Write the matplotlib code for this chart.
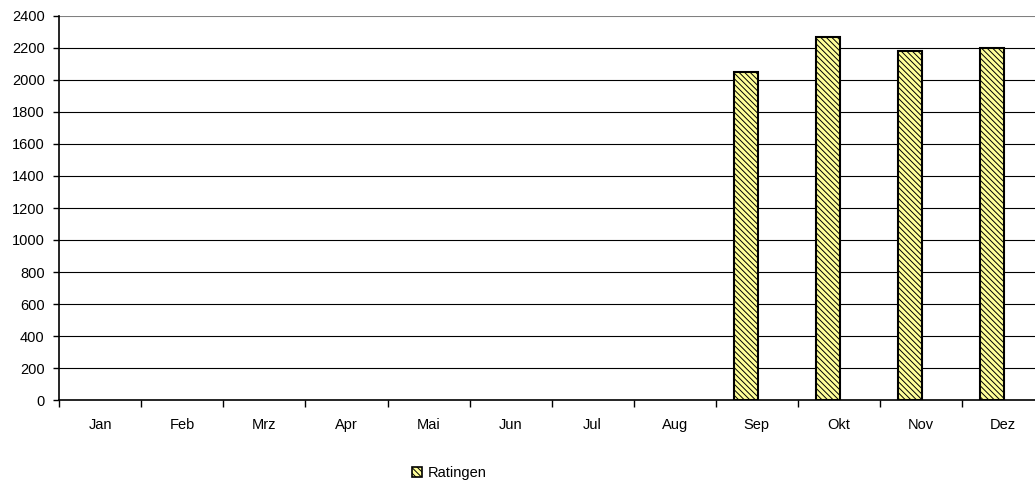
import numpy as np
import matplotlib.pyplot as plt
from matplotlib.patches import Patch

plt.rcParams['font.family'] = ['Liberation Sans', 'DejaVu Sans']
plt.rcParams['hatch.linewidth'] = 0.7

monate = ["Jan", "Feb", "Mrz", "Apr", "Mai", "Jun", "Jul", "Aug", "Sep", "Okt", "Nov", "Dez"]
ratingen = [0, 0, 0, 0, 0, 0, 0, 0, 2052, 2266, 2183, 2198]
y_ticks = list(range(0, 2401, 200))

fig = plt.figure(figsize=(10.35, 4.87), dpi=100)
ax = fig.add_axes([59.3 / 1035, 87 / 487, (1044 - 59.3) / 1035, 384 / 487])

x = np.arange(len(monate))
werte = np.array(ratingen, dtype=float)
maske = werte > 0
ax.bar(x[maske] + 0.5 - 0.134, werte[maske], width=0.293, color="#FFFF99",
       edgecolor="black", linewidth=1.5, hatch="\\" * 6, zorder=3)

ax.set_xlim(0, 12)
ax.set_ylim(0, 2400)
ax.set_yticks(y_ticks)
ax.set_yticklabels([str(v) for v in y_ticks], fontsize=10.5)

# Trennstriche zwischen den Monaten, Beschriftung in der Mitte
ax.set_xticks(np.arange(0, 13))
ax.set_xticklabels([])
ax.set_xticks(x + 0.5, minor=True)
ax.set_xticklabels(monate, minor=True, fontsize=10.5)
ax.tick_params(axis="x", which="major", length=5, width=1, direction="out")
ax.tick_params(axis="x", which="minor", length=0, pad=13)
ax.tick_params(axis="y", length=4, width=1, direction="out", pad=6.5)

for v in y_ticks[1:-1]:
    ax.axhline(v, color="black", linewidth=0.8, zorder=1)
ax.axhline(2400, color="#808080", linewidth=1.5, zorder=1)

ax.spines["top"].set_visible(False)
ax.spines["right"].set_visible(False)
ax.spines["left"].set_linewidth(1.2)
ax.spines["bottom"].set_linewidth(1.2)

handle = Patch(facecolor="#FFFF99", edgecolor="black", hatch="\\" * 6, linewidth=1.2, label="Ratingen")
fig.legend(handles=[handle], loc="center", bbox_to_anchor=(449 / 1035, 1 - 473 / 487),
           frameon=False, fontsize=10.5, handlelength=0.75, handleheight=0.75, handletextpad=0.35)

fig.savefig("out.png", dpi=100)
